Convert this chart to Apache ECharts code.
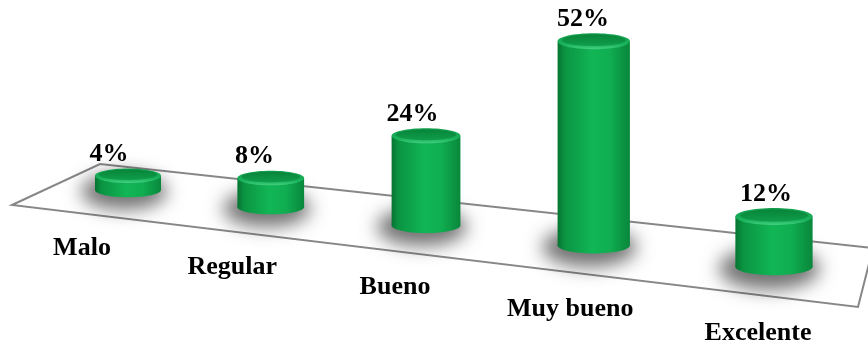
<!DOCTYPE html>
<html>
<head>
<meta charset="utf-8">
<style>
  html, body { margin: 0; padding: 0; background: #ffffff; }
  #chart { width: 868px; height: 344px; }
</style>
<script src="https://cdn.jsdelivr.net/npm/echarts@6/dist/echarts.min.js"></script>
</head>
<body>
<div id="chart"></div>
<script>
// Rating categories and the share of answers (%) for each one
const categories = ['Malo', 'Regular', 'Bueno', 'Muy bueno', 'Excelente'];
const percentages = [4, 8, 24, 52, 12];

const FONT = '"Liberation Serif", "Times New Roman", Times, serif';

// Perspective settings for the tilted floor the cylinders stand on
const BEND = 100;        // inner columns drift toward the back-left
const TILT = 0.119;      // floor rises toward the left in screen space
const GROW = 0.17;       // front columns appear larger than back ones
const BASE_WIDTH = 66;   // cylinder diameter of the rear-most column
const SHADOW_SHIFT = 3000;

function renderCylinder(params, api) {
  const i = api.value(0);
  const v = api.value(1);
  const first = api.coord([0, 0]);
  const last = api.coord([categories.length - 1, 0]);
  const p0 = api.coord([i, 0]);
  const p1 = api.coord([i, v]);

  const u = (p0[0] - first[0]) / (last[0] - first[0]);
  const f = 1 + GROW * u * u;
  const cx = p0[0] - BEND * u * (1 - u);
  const baseY = p0[1] + TILT * (cx - first[0]);
  const h = (p0[1] - p1[1]) * f;
  const w = BASE_WIDTH * f;
  const rx = w / 2;
  const ry = w * 0.11;
  const topY = baseY - h;

  const bodyFill = new echarts.graphic.LinearGradient(0, 0, 1, 0, [
    { offset: 0, color: '#067431' },
    { offset: 0.1, color: '#0b9442' },
    { offset: 0.48, color: '#11b655' },
    { offset: 0.72, color: '#10ae51' },
    { offset: 1, color: '#09873b' }
  ]);
  const rimFill = new echarts.graphic.LinearGradient(0, 0, 0, 1, [
    { offset: 0, color: '#129e4d' },
    { offset: 0.7, color: '#19b35b' },
    { offset: 1, color: '#44cf80' }
  ]);
  const capFill = new echarts.graphic.LinearGradient(0, 0, 0, 1, [
    { offset: 0, color: '#08843a' },
    { offset: 1, color: '#0f9e49' }
  ]);

  return {
    type: 'group',
    children: [
      // soft ground shadow (shape kept off-screen, only its blur is shown)
      {
        type: 'ellipse',
        shape: { cx: cx - SHADOW_SHIFT - rx * 0.12, cy: baseY + ry * 0.2, rx: rx * 1.3, ry: ry * 2.5 },
        style: {
          fill: '#000',
          shadowBlur: 18,
          shadowColor: 'rgba(0,0,0,0.55)',
          shadowOffsetX: SHADOW_SHIFT,
          shadowOffsetY: 0
        }
      },
      // body
      {
        type: 'rect',
        shape: { x: cx - rx, y: topY, width: w, height: h },
        style: { fill: bodyFill }
      },
      {
        type: 'ellipse',
        shape: { cx: cx, cy: baseY, rx: rx, ry: ry },
        style: { fill: bodyFill }
      },
      // top cap with a lighter bevelled rim
      {
        type: 'ellipse',
        shape: { cx: cx, cy: topY, rx: rx, ry: ry },
        style: { fill: rimFill }
      },
      {
        type: 'ellipse',
        shape: { cx: cx, cy: topY - ry * 0.12, rx: rx * 0.88, ry: ry * 0.72 },
        style: { fill: capFill }
      },
      // value label
      {
        type: 'text',
        x: cx - 19 + 11 * u,
        y: topY - ry - 14,
        style: {
          text: v + '%',
          font: 'bold 26px ' + FONT,
          fill: '#000',
          align: 'center',
          verticalAlign: 'middle'
        }
      },
      // category label on the floor in front of the column
      {
        type: 'text',
        x: cx - 46 + 30 * u,
        y: baseY + 58 + 8 * u,
        style: {
          text: categories[i],
          font: 'bold 26px ' + FONT,
          fill: '#000',
          align: 'center',
          verticalAlign: 'middle'
        }
      }
    ]
  };
}

const chart = echarts.init(document.getElementById('chart'), null, { renderer: 'canvas' });

chart.setOption({
  animation: false,
  backgroundColor: '#ffffff',
  grid: { left: 47.25, width: 807.5, top: 0, height: 190 },
  xAxis: { type: 'category', data: categories, show: false },
  yAxis: { type: 'value', min: 0, max: 53, show: false },
  graphic: [
    {
      type: 'polygon',
      z: 0,
      shape: { points: [[12, 205], [100, 164], [873, 248], [858, 307]] },
      style: { fill: '#ffffff', stroke: '#878787', lineWidth: 2 }
    }
  ],
  series: [
    {
      type: 'custom',
      z: 5,
      clip: false,
      renderItem: renderCylinder,
      data: percentages.map((v, i) => [i, v])
    }
  ]
});
</script>
</body>
</html>
